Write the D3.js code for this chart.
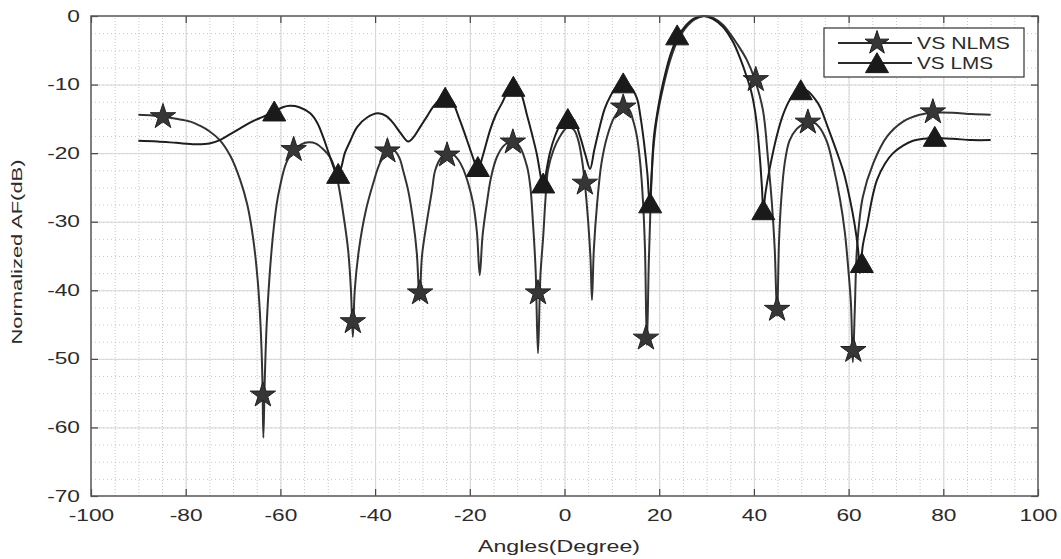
<!DOCTYPE html>
<html>
<head>
<meta charset="utf-8">
<script src="https://cdn.jsdelivr.net/npm/d3@7"></script>
<style>
body { margin: 0; background: #fff; }
text { font-family: "Liberation Sans", Arial, sans-serif; fill: #2b2b2b; }
</style>
</head>
<body>
<svg id="chart" width="1061" height="559"></svg>
<script>
// ---- data: [angle (deg), normalized AF (dB)] ----
var nlmsPoints = [[-90,-14.4],[-87,-14.5],[-84.8,-14.7],[-82,-15.0],[-79,-15.4],[-77,-16.0],[-75,-16.8],[-72.8,-18.1],
  [-70.5,-20.5],[-68.5,-23.9],[-67,-27.5],[-65.8,-32.2],[-64.8,-38.5],[-64.2,-45],[-63.8,-53],[-63.6,-61.5],
  [-63.3,-53],[-62.9,-45],[-62.3,-38],[-61.6,-32.2],[-60.8,-27.5],[-60.1,-24.9],[-58.8,-21.5],[-57.2,-19.6],
  [-55.5,-18.7],[-54,-18.4],[-52.5,-18.6],[-51,-19.4],[-49.5,-20.6],[-48.5,-22.3],[-47.8,-24.4],[-46.8,-28.5],
  [-45.7,-34.1],[-45.1,-40],[-44.7,-46.8],[-44.3,-40],[-43.4,-34],[-42,-28.5],[-40.4,-24.4],[-39,-21.5],
  [-37.4,-19.8],[-36,-19.6],[-34.8,-20.8],[-34.1,-22.5],[-33,-25.5],[-32,-29.7],[-31.2,-34.5],[-30.6,-41.5],
  [-30.1,-35],[-29,-29.7],[-28,-25.5],[-27.3,-22.5],[-26,-20.6],[-24.8,-20.0],[-23.5,-20.2],[-22.4,-21],
  [-21.4,-22.3],[-20.3,-24.5],[-19.3,-27.3],[-18.5,-31.5],[-17.9,-37.8],[-17.3,-32],[-16.4,-27.3],[-15.5,-23.5],
  [-14.3,-20.6],[-12.8,-18.9],[-11,-18.2],[-9.5,-19],[-7.9,-22],[-7.2,-25],[-6.7,-29.7],[-6.1,-37],
  [-5.6,-49.2],[-5.1,-38],[-4.5,-32.2],[-4,-26.5],[-3.5,-22.5],[-2.3,-19.5],[-1,-17.6],[0.7,-16.2],
  [2,-16.6],[2.9,-18.1],[3.7,-21],[4.3,-24.4],[5,-30],[5.5,-35.5],[5.8,-41.4],[6.2,-34],[6.9,-27.3],
  [7.8,-21.5],[9,-17.6],[10.5,-14.8],[12.4,-13.3],[13.6,-13.6],[14.6,-15.5],[15.3,-17.6],[16,-21.5],
  [16.6,-27.3],[17,-34],[17.4,-48],[17.8,-36],[18.2,-27],[18.7,-20],[19.5,-15],[20.8,-10.5],[22.3,-6.5],
  [23.8,-3.7],[25.5,-1.8],[27.5,-0.5],[29.5,0],[31.5,-0.3],[33.5,-1.3],[35,-2.6],[36.4,-4],[38.5,-6.4],
  [40.2,-9.3],[41.9,-13.7],[43,-21],[43.8,-27.3],[44.4,-34],[44.9,-43.8],[45.3,-33],[45.8,-26.5],
  [46.5,-21.5],[47.5,-18.2],[49,-16.5],[50.3,-15.8],[51.4,-15.5],[52.5,-15.5],[53.8,-16.2],[55.4,-18.3],
  [56.8,-22],[58.2,-26.8],[59.2,-31.5],[59.9,-36.6],[60.5,-42],[60.9,-50.5],[61.3,-43],[61.8,-33.6],
  [63,-26.4],[65.2,-21.5],[68.1,-17.6],[71.5,-15.4],[75,-14.4],[78,-14.1],[82,-14.1],[86,-14.3],[90,-14.4]];

var lmsPoints = [[-90,-18.2],[-86,-18.3],[-82,-18.5],[-78,-18.7],[-75,-18.6],[-72.8,-18.1],[-70.5,-17.2],
  [-68.5,-16.4],[-66,-15.4],[-63.7,-14.7],[-61.3,-13.9],[-59.5,-13.3],[-58,-13.1],[-56,-13.3],[-53.7,-14.2],
  [-52.2,-15.6],[-51,-17.6],[-49.8,-20],[-48.8,-22],[-48,-23.3],[-47.2,-22.2],[-46.4,-20],[-45.3,-18.3],
  [-43.8,-16.2],[-41.7,-14.8],[-39.4,-14.2],[-37.6,-14.6],[-36.2,-15.6],[-34.6,-17.1],[-33,-18.3],
  [-31.8,-17.6],[-30.5,-16.2],[-29,-14.6],[-27.8,-13.3],[-26.4,-12.2],[-25.2,-11.7],[-24,-12.1],
  [-22.1,-15.2],[-21,-17.3],[-20,-19.3],[-19,-21.3],[-18.3,-22.6],[-17.3,-20.5],[-15.7,-16.6],
  [-14.5,-14.4],[-13.2,-12.7],[-11.8,-10.8],[-10.7,-10.2],[-9.5,-10.8],[-7.9,-14.5],[-6.8,-17.4],
  [-5.8,-20.3],[-4.8,-24.2],[-4.4,-25],[-3.8,-22.5],[-3.1,-20],[-2,-17.5],[-1,-16],[0.7,-14.6],
  [2,-15.2],[3.3,-17.6],[4.4,-20.2],[5.4,-22.3],[6.3,-19.5],[7.5,-16],[8.5,-13.5],[9.6,-11.8],
  [11,-10.3],[12.4,-9.7],[13.8,-10.2],[15.3,-12],[16,-14.5],[16.8,-18.5],[17.5,-23],[18,-27.5],
  [18.4,-23],[18.9,-17.5],[20,-12.5],[20.8,-9.8],[22.3,-5.8],[23.8,-3.2],[25.5,-1.5],[27.3,-0.4],
  [29.3,0],[31.3,-0.4],[33.5,-1.6],[35.6,-3.8],[37,-6],[38.5,-8.9],[39.5,-11.2],[40.2,-13.7],
  [40.8,-17],[41.3,-21],[41.7,-25],[42,-28.5],[42.4,-26],[43.4,-22],[44.9,-17.3],[46.2,-14.3],
  [47.6,-12.2],[49,-11],[50.3,-10.6],[51.5,-11],[53,-12.2],[54,-13.3],[55.7,-16.4],[57.5,-19.8],
  [59,-22.9],[60.3,-26.8],[61.3,-30.5],[62,-34],[62.4,-37.5],[63,-33.5],[63.9,-30.5],[65,-26.5],
  [66,-23.9],[67.7,-21.5],[69.4,-20],[71.5,-18.9],[73.6,-18.2],[76,-17.9],[78.2,-17.8],[82,-17.9],
  [86,-18.1],[90,-18.1]];

// marker positions (stars on VS NLMS, triangles on VS LMS)
var nlmsMarkers = [[-84.8,-14.7],[-63.7,-55.3],[-57.2,-19.5],[-44.7,-44.6],[-37.4,-19.7],[-30.5,-40.4],
  [-24.8,-20.3],[-10.9,-18.4],[-5.6,-40.4],[4.3,-24.4],[12.4,-13.3],[17.2,-47],[40.4,-9.3],[44.9,-42.8],
  [51.4,-15.5],[61,-48.8],[77.8,-14]];
var lmsMarkers = [[-61.3,-13.9],[-47.8,-23],[-25.2,-11.9],[-18.3,-22],[-10.8,-10.3],[-4.5,-24.4],
  [0.7,-15],[12.4,-9.8],[18.1,-27.3],[23.8,-2.8],[42,-28.3],[49.9,-10.8],[62.8,-36],[78.2,-17.6]];

var seriesNames = ["VS NLMS", "VS LMS"];
var xTicks = [-100, -80, -60, -40, -20, 0, 20, 40, 60, 80, 100];
var yTicks = [-70, -60, -50, -40, -30, -20, -10, 0];
var xLabel = "Angles(Degree)";
var yLabel = "Normalized AF(dB)";

// ---- layout ----
var svg = d3.select("#chart");
var plotLeft = 91, plotRight = 1038, plotTop = 16, plotBottom = 496;
var ink = "#2b2b2b";

var x = d3.scaleLinear().domain([-100, 100]).range([plotLeft, plotRight]);
var y = d3.scaleLinear().domain([-70, 0]).range([plotBottom, plotTop]);

// minor grid (dotted)
svg.append("g")
  .attr("transform", "translate(0," + plotBottom + ")")
  .call(d3.axisBottom(x).tickValues(d3.range(-95, 100, 5)).tickSize(-(plotBottom - plotTop)).tickFormat(""))
  .call(function(g){ g.select(".domain").remove(); })
  .selectAll("line").attr("stroke", "#c8c8c8").attr("stroke-dasharray", "1,2");

svg.append("g")
  .attr("transform", "translate(" + plotLeft + ",0)")
  .call(d3.axisLeft(y).tickValues(d3.range(-67.5, 0, 2.5)).tickSize(-(plotRight - plotLeft)).tickFormat(""))
  .call(function(g){ g.select(".domain").remove(); })
  .selectAll("line").attr("stroke", "#c8c8c8").attr("stroke-dasharray", "1,3");

// major grid
svg.append("g")
  .attr("transform", "translate(0," + plotBottom + ")")
  .call(d3.axisBottom(x).tickValues(xTicks.slice(1, -1)).tickSize(-(plotBottom - plotTop)).tickFormat(""))
  .call(function(g){ g.select(".domain").remove(); })
  .selectAll("line").attr("stroke", "#d6d6d6");

svg.append("g")
  .attr("transform", "translate(" + plotLeft + ",0)")
  .call(d3.axisLeft(y).tickValues(yTicks.slice(1, -1)).tickSize(-(plotRight - plotLeft)).tickFormat(""))
  .call(function(g){ g.select(".domain").remove(); })
  .selectAll("line").attr("stroke", "#d6d6d6");

// ---- curves ----
var line = d3.line()
  .x(function(d){ return x(d[0]); })
  .y(function(d){ return y(d[1]); })
  .curve(d3.curveCatmullRom.alpha(0.5));

svg.append("path")
  .datum(nlmsPoints)
  .attr("d", line)
  .attr("fill", "none")
  .attr("stroke", "#333")
  .attr("stroke-width", 2);

svg.selectAll(".star")
  .data(nlmsMarkers)
  .enter()
  .append("path")
    .attr("class", "star")
    .attr("d", d3.symbol(d3.symbolStar, 200))
    .attr("transform", function(d){ return "translate(" + x(d[0]) + "," + y(d[1]) + ")"; })
    .attr("fill", "#363636")
    .attr("stroke", "#222")
    .attr("stroke-width", 1);

svg.append("path")
  .datum(lmsPoints)
  .attr("d", line)
  .attr("fill", "none")
  .attr("stroke", "#1e1e1e")
  .attr("stroke-width", 2);

svg.selectAll(".tri")
  .data(lmsMarkers)
  .enter()
  .append("path")
    .attr("class", "tri")
    .attr("d", d3.symbol(d3.symbolTriangle, 230))
    .attr("transform", function(d){ return "translate(" + x(d[0]) + "," + (y(d[1]) + 3) + ")"; })
    .attr("fill", "#1a1a1a")
    .attr("stroke", "#1a1a1a")
    .attr("stroke-width", 1);

// ---- axes (ticks inside the box) ----
var fmt = function(d){ return String(d); };

var xAxis = svg.append("g")
  .attr("transform", "translate(0," + plotBottom + ")")
  .call(d3.axisBottom(x).tickValues(xTicks).tickSize(-7).tickSizeOuter(0).tickFormat(fmt));
xAxis.selectAll("text")
  .attr("y", 0).attr("dy", 0)
  .attr("transform", "translate(0,25) scale(1.42,1)")
  .style("font-size", "16px");

var yAxis = svg.append("g")
  .attr("transform", "translate(" + plotLeft + ",0)")
  .call(d3.axisLeft(y).tickValues(yTicks).tickSize(-7).tickSizeOuter(0).tickFormat(fmt));
yAxis.selectAll("text")
  .attr("x", 0)
  .attr("transform", "translate(-11,0) scale(1.42,1)")
  .style("font-size", "16px");

var topAxis = svg.append("g")
  .attr("transform", "translate(0," + plotTop + ")")
  .call(d3.axisTop(x).tickValues(xTicks).tickSize(-7).tickSizeOuter(0).tickFormat(""));
var rightAxis = svg.append("g")
  .attr("transform", "translate(" + plotRight + ",0)")
  .call(d3.axisRight(y).tickValues(yTicks).tickSize(-7).tickSizeOuter(0).tickFormat(""));

[xAxis, yAxis, topAxis, rightAxis].forEach(function(g){
  g.select(".domain").remove();
  g.selectAll(".tick line").attr("stroke", "#444").attr("stroke-width", 1.2);
});

svg.append("rect")
  .attr("x", plotLeft).attr("y", plotTop)
  .attr("width", plotRight - plotLeft).attr("height", plotBottom - plotTop)
  .attr("fill", "none")
  .attr("stroke", "#555")
  .attr("stroke-width", 1.5);

// axis titles
svg.append("text")
  .attr("x", 559).attr("y", 552)
  .attr("text-anchor", "middle")
  .attr("textLength", 162)
  .attr("lengthAdjust", "spacingAndGlyphs")
  .style("font-size", "17px")
  .text(xLabel);

svg.append("text")
  .attr("transform", "translate(22,252) rotate(-90)")
  .attr("text-anchor", "middle")
  .attr("textLength", 185)
  .attr("lengthAdjust", "spacingAndGlyphs")
  .style("font-size", "15px")
  .text(yLabel);

// ---- legend ----
var legend = svg.append("g");
legend.append("rect")
  .attr("x", 824).attr("y", 28)
  .attr("width", 200).attr("height", 49)
  .attr("fill", "#fff")
  .attr("stroke", "#333")
  .attr("stroke-width", 1.2);

var legendSymbols = [d3.symbolStar, d3.symbolTriangle];
var legendSizes = [175, 230];
seriesNames.forEach(function(name, i){
  var ly = 43 + i * 20;
  legend.append("line")
    .attr("x1", 838).attr("x2", 912)
    .attr("y1", ly).attr("y2", ly)
    .attr("stroke", ink).attr("stroke-width", 2);
  legend.append("path")
    .attr("d", d3.symbol(legendSymbols[i], legendSizes[i]))
    .attr("transform", "translate(877," + (ly + (i === 1 ? 3 : 0)) + ")")
    .attr("fill", i === 0 ? "#363636" : "#1a1a1a")
    .attr("stroke", "#1a1a1a");
  legend.append("text")
    .attr("x", 917).attr("y", ly)
    .attr("dy", "0.36em")
    .attr("textLength", i === 0 ? 93 : 76)
    .attr("lengthAdjust", "spacingAndGlyphs")
    .style("font-size", "17px")
    .text(name);
});
</script>
</body>
</html>
